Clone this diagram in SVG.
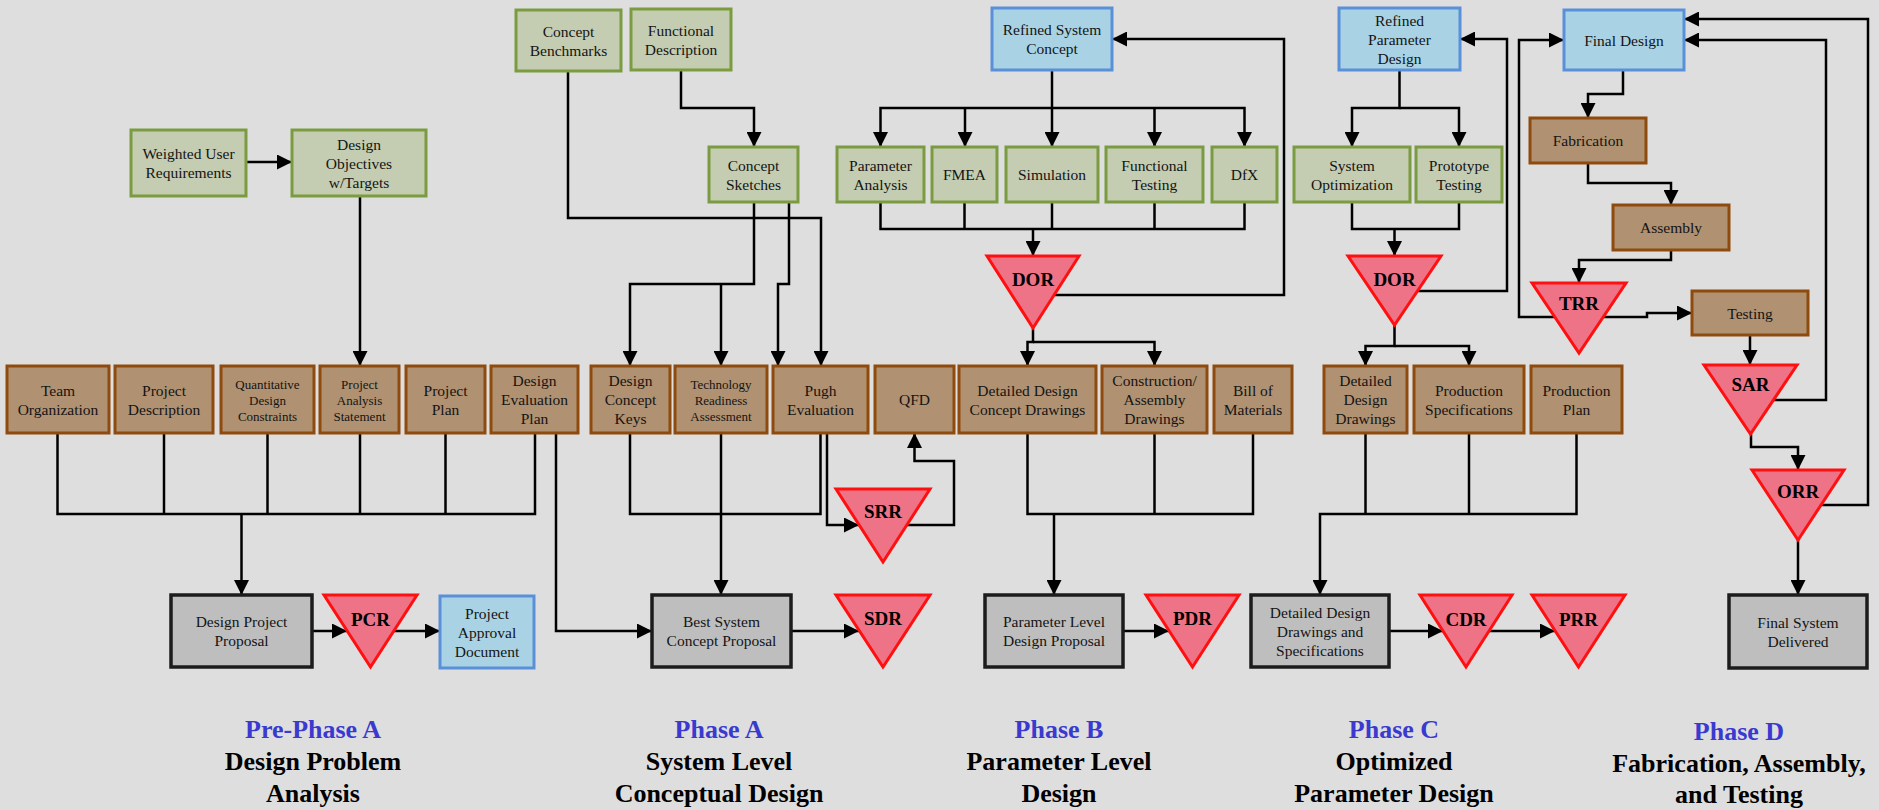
<svg xmlns="http://www.w3.org/2000/svg" width="1879" height="810" viewBox="0 0 1879 810">
  <defs>
    <marker id="arr" markerUnits="userSpaceOnUse" markerWidth="15" markerHeight="15" refX="15" refY="7.5" orient="auto">
      <path d="M0,0 L15,7.5 L0,15 Z" fill="#000"/>
    </marker>
  </defs>
  <style>
    .grn { fill: #c4ccb1; stroke: #7b9b40; stroke-width: 3; }
    .blu { fill: #a9d3e4; stroke: #5a8fd9; stroke-width: 3; }
    .brn { fill: #b09171; stroke: #8f4a0e; stroke-width: 3; }
    .gry { fill: #bebebe; stroke: #1c1c1c; stroke-width: 3.5; }
    .tri { fill: #ee7387; stroke: #ff1010; stroke-width: 3; }
    text { font-family: "Liberation Serif", "Times New Roman", serif; text-anchor: middle; fill: #141414; }
    .t { font-size: 15.5px; }
    .s { font-size: 13px; }
    .r { font-size: 19px; font-weight: bold; fill: #000; }
    .ph { font-size: 26px; font-weight: bold; fill: #3a3ad0; }
    .pt { font-size: 26px; font-weight: bold; fill: #000; }
    .c path { fill: none; stroke: #000; stroke-width: 2.5; }
    .c path.a { marker-end: url(#arr); }
  </style>

  <rect x="0" y="0" width="1879" height="810" fill="#dedede"/>

  <!-- connectors -->
  <g id="connectors" class="c">
    <!-- pre-phase A -->
    <path class="a" d="M246,162 H292"/>
    <path class="a" d="M360,196 V366"/>
    <path d="M57.5,433 V514 H535 V433"/>
    <path d="M164,433 V514"/>
    <path d="M267.5,433 V514"/>
    <path d="M360,433 V514"/>
    <path d="M445.5,433 V514"/>
    <path class="a" d="M241.5,514 V595"/>
    <path class="a" d="M312,631 H347"/>
    <path class="a" d="M394,631 H440"/>
    <path class="a" d="M556,433 V631 H652"/>

    <!-- phase A -->
    <path class="a" d="M681,70 V108 H754 V147"/>
    <path class="a" d="M568,71 V218 H821 V366"/>
    <path class="a" d="M754,202 V284 H630 V366"/>
    <path class="a" d="M721,284 V366"/>
    <path class="a" d="M789,202 V284 H778 V366"/>
    <path d="M630,433 V514 H820.5 V433"/>
    <path class="a" d="M721,433 V595"/>
    <path class="a" d="M827,433 V525 H859"/>
    <path class="a" d="M907,525 H954 V461 H914.5 V433"/>
    <path class="a" d="M791,631 H859"/>

    <!-- phase B -->
    <path class="a" d="M1052,70 V147"/>
    <path class="a" d="M1052,108 H880.5 V147"/>
    <path class="a" d="M965,108 V147"/>
    <path class="a" d="M1052,108 H1244.5 V147"/>
    <path class="a" d="M1154.5,108 V147"/>
    <path d="M880.5,202 V229 H1244.5 V202"/>
    <path d="M964.5,202 V229"/>
    <path d="M1052,202 V229"/>
    <path d="M1154.5,202 V229"/>
    <path class="a" d="M1033,229 V256"/>
    <path class="a" d="M1055,295 H1284 V39 H1112"/>
    <path class="a" d="M1033,328 V342 H1027.5 V366"/>
    <path class="a" d="M1033,342 H1154.5 V366"/>
    <path d="M1027.5,433 V514 H1253 V433"/>
    <path d="M1154.5,433 V514"/>
    <path class="a" d="M1054,514 V595"/>
    <path class="a" d="M1123,631 H1169"/>

    <!-- phase C -->
    <path class="a" d="M1399.5,70 V108 H1352 V147"/>
    <path class="a" d="M1399.5,108 H1459 V147"/>
    <path d="M1352,202 V229 H1459 V202"/>
    <path class="a" d="M1394.5,229 V256"/>
    <path class="a" d="M1417,291 H1507 V39 H1460"/>
    <path class="a" d="M1394.5,325 V346 H1365.5 V366"/>
    <path class="a" d="M1394.5,346 H1469 V366"/>
    <path class="a" d="M1576.5,433 V514 H1320 V595"/>
    <path d="M1365.5,433 V514"/>
    <path d="M1469,433 V514"/>
    <path class="a" d="M1389,631 H1443"/>
    <path class="a" d="M1489,631 H1555"/>

    <!-- phase D -->
    <path class="a" d="M1623,70 V94 H1588 V118"/>
    <path class="a" d="M1588,163 V183 H1671 V205"/>
    <path class="a" d="M1671,250 V260 H1579 V283"/>
    <path class="a" d="M1555,317 H1519 V40 H1564"/>
    <path class="a" d="M1603,317 H1647 V313 H1692"/>
    <path class="a" d="M1750,335 V365"/>
    <path class="a" d="M1774,400 H1826 V40 H1684"/>
    <path class="a" d="M1751,434 V447 H1798 V470"/>
    <path class="a" d="M1821,505 H1868 V19 H1684"/>
    <path class="a" d="M1798,540 V595"/>
  </g>

  <!-- green activity nodes -->
  <g id="weighted-user-requirements"><rect class="grn" x="131" y="130" width="115" height="66"/>
    <text class="t" x="188.5" y="159">Weighted User</text><text class="t" x="188.5" y="178">Requirements</text></g>
  <g id="design-objectives"><rect class="grn" x="292" y="130" width="134" height="66"/>
    <text class="t" x="359" y="149.5">Design</text><text class="t" x="359" y="168.5">Objectives</text><text class="t" x="359" y="187.5">w/Targets</text></g>
  <g id="concept-benchmarks"><rect class="grn" x="516" y="10" width="105" height="61"/>
    <text class="t" x="568.5" y="36.5">Concept</text><text class="t" x="568.5" y="55.5">Benchmarks</text></g>
  <g id="functional-description"><rect class="grn" x="631" y="9" width="100" height="61"/>
    <text class="t" x="681" y="35.5">Functional</text><text class="t" x="681" y="54.5">Description</text></g>
  <g id="concept-sketches"><rect class="grn" x="709" y="147" width="89" height="55"/>
    <text class="t" x="753.5" y="170.5">Concept</text><text class="t" x="753.5" y="189.5">Sketches</text></g>
  <g id="parameter-analysis"><rect class="grn" x="837" y="147" width="87" height="55"/>
    <text class="t" x="880.5" y="170.5">Parameter</text><text class="t" x="880.5" y="189.5">Analysis</text></g>
  <g id="fmea"><rect class="grn" x="932" y="147" width="65" height="55"/>
    <text class="t" x="964.5" y="180">FMEA</text></g>
  <g id="simulation"><rect class="grn" x="1006" y="147" width="92" height="55"/>
    <text class="t" x="1052" y="180">Simulation</text></g>
  <g id="functional-testing"><rect class="grn" x="1106" y="147" width="97" height="55"/>
    <text class="t" x="1154.5" y="170.5">Functional</text><text class="t" x="1154.5" y="189.5">Testing</text></g>
  <g id="dfx"><rect class="grn" x="1212" y="147" width="65" height="55"/>
    <text class="t" x="1244.5" y="180">DfX</text></g>
  <g id="system-optimization"><rect class="grn" x="1294" y="147" width="116" height="55"/>
    <text class="t" x="1352" y="170.5">System</text><text class="t" x="1352" y="189.5">Optimization</text></g>
  <g id="prototype-testing"><rect class="grn" x="1416" y="147" width="86" height="55"/>
    <text class="t" x="1459" y="170.5">Prototype</text><text class="t" x="1459" y="189.5">Testing</text></g>

  <!-- blue design nodes -->
  <g id="refined-system-concept"><rect class="blu" x="992" y="8" width="120" height="62"/>
    <text class="t" x="1052" y="35">Refined System</text><text class="t" x="1052" y="54">Concept</text></g>
  <g id="refined-parameter-design"><rect class="blu" x="1339" y="8" width="121" height="62"/>
    <text class="t" x="1399.5" y="25.5">Refined</text><text class="t" x="1399.5" y="44.5">Parameter</text><text class="t" x="1399.5" y="63.5">Design</text></g>
  <g id="final-design"><rect class="blu" x="1564" y="10" width="120" height="60"/>
    <text class="t" x="1624" y="45.5">Final Design</text></g>
  <g id="project-approval-document"><rect class="blu" x="440" y="596" width="94" height="72"/>
    <text class="t" x="487" y="618.5">Project</text><text class="t" x="487" y="637.5">Approval</text><text class="t" x="487" y="656.5">Document</text></g>

  <!-- brown deliverable nodes -->
  <g id="team-organization"><rect class="brn" x="7" y="366" width="102" height="67"/>
    <text class="t" x="58" y="395.5">Team</text><text class="t" x="58" y="414.5">Organization</text></g>
  <g id="project-description"><rect class="brn" x="115" y="366" width="98" height="67"/>
    <text class="t" x="164" y="395.5">Project</text><text class="t" x="164" y="414.5">Description</text></g>
  <g id="quantitative-design-constraints"><rect class="brn" x="221" y="366" width="93" height="67"/>
    <text class="s" x="267.5" y="388.5">Quantitative</text><text class="s" x="267.5" y="404.5">Design</text><text class="s" x="267.5" y="420.5">Constraints</text></g>
  <g id="project-analysis-statement"><rect class="brn" x="320" y="366" width="79" height="67"/>
    <text class="s" x="359.5" y="388.5">Project</text><text class="s" x="359.5" y="404.5">Analysis</text><text class="s" x="359.5" y="420.5">Statement</text></g>
  <g id="project-plan"><rect class="brn" x="406" y="366" width="79" height="67"/>
    <text class="t" x="445.5" y="395.5">Project</text><text class="t" x="445.5" y="414.5">Plan</text></g>
  <g id="design-evaluation-plan"><rect class="brn" x="491" y="366" width="87" height="67"/>
    <text class="t" x="534.5" y="386">Design</text><text class="t" x="534.5" y="405">Evaluation</text><text class="t" x="534.5" y="424">Plan</text></g>
  <g id="design-concept-keys"><rect class="brn" x="591" y="366" width="79" height="67"/>
    <text class="t" x="630.5" y="386">Design</text><text class="t" x="630.5" y="405">Concept</text><text class="t" x="630.5" y="424">Keys</text></g>
  <g id="technology-readiness-assessment"><rect class="brn" x="675" y="366" width="92" height="67"/>
    <text class="s" x="721" y="388.5">Technology</text><text class="s" x="721" y="404.5">Readiness</text><text class="s" x="721" y="420.5">Assessment</text></g>
  <g id="pugh-evaluation"><rect class="brn" x="773" y="366" width="95" height="67"/>
    <text class="t" x="820.5" y="395.5">Pugh</text><text class="t" x="820.5" y="414.5">Evaluation</text></g>
  <g id="qfd"><rect class="brn" x="875" y="366" width="79" height="67"/>
    <text class="t" x="914.5" y="405">QFD</text></g>
  <g id="detailed-design-concept-drawings"><rect class="brn" x="959" y="366" width="137" height="67"/>
    <text class="t" x="1027.5" y="395.5">Detailed Design</text><text class="t" x="1027.5" y="414.5">Concept Drawings</text></g>
  <g id="construction-assembly-drawings"><rect class="brn" x="1102" y="366" width="105" height="67"/>
    <text class="t" x="1154.5" y="386">Construction/</text><text class="t" x="1154.5" y="405">Assembly</text><text class="t" x="1154.5" y="424">Drawings</text></g>
  <g id="bill-of-materials"><rect class="brn" x="1214" y="366" width="78" height="67"/>
    <text class="t" x="1253" y="395.5">Bill of</text><text class="t" x="1253" y="414.5">Materials</text></g>
  <g id="detailed-design-drawings"><rect class="brn" x="1324" y="366" width="83" height="67"/>
    <text class="t" x="1365.5" y="386">Detailed</text><text class="t" x="1365.5" y="405">Design</text><text class="t" x="1365.5" y="424">Drawings</text></g>
  <g id="production-specifications"><rect class="brn" x="1414" y="366" width="110" height="67"/>
    <text class="t" x="1469" y="395.5">Production</text><text class="t" x="1469" y="414.5">Specifications</text></g>
  <g id="production-plan"><rect class="brn" x="1531" y="366" width="91" height="67"/>
    <text class="t" x="1576.5" y="395.5">Production</text><text class="t" x="1576.5" y="414.5">Plan</text></g>
  <g id="fabrication"><rect class="brn" x="1530" y="118" width="116" height="45"/>
    <text class="t" x="1588" y="146">Fabrication</text></g>
  <g id="assembly"><rect class="brn" x="1613" y="205" width="116" height="45"/>
    <text class="t" x="1671" y="233">Assembly</text></g>
  <g id="testing"><rect class="brn" x="1692" y="291" width="116" height="44"/>
    <text class="t" x="1750" y="318.5">Testing</text></g>

  <!-- gray proposal nodes -->
  <g id="design-project-proposal"><rect class="gry" x="171" y="595" width="141" height="72"/>
    <text class="t" x="241.5" y="627">Design Project</text><text class="t" x="241.5" y="646">Proposal</text></g>
  <g id="best-system-concept-proposal"><rect class="gry" x="652" y="595" width="139" height="72"/>
    <text class="t" x="721.5" y="627">Best System</text><text class="t" x="721.5" y="646">Concept Proposal</text></g>
  <g id="parameter-level-design-proposal"><rect class="gry" x="985" y="595" width="138" height="72"/>
    <text class="t" x="1054" y="627">Parameter Level</text><text class="t" x="1054" y="646">Design Proposal</text></g>
  <g id="detailed-design-drawings-specifications"><rect class="gry" x="1251" y="595" width="138" height="72"/>
    <text class="t" x="1320" y="617.5">Detailed Design</text><text class="t" x="1320" y="636.5">Drawings and</text><text class="t" x="1320" y="655.5">Specifications</text></g>
  <g id="final-system-delivered"><rect class="gry" x="1729" y="595" width="138" height="73"/>
    <text class="t" x="1798" y="627.5">Final System</text><text class="t" x="1798" y="646.5">Delivered</text></g>

  <!-- review gates -->
  <g id="pcr"><path class="tri" d="M324,595 H417 L370.5,667 Z"/><text class="r" x="370.5" y="626">PCR</text></g>
  <g id="srr"><path class="tri" d="M836,489 H930 L883,562 Z"/><text class="r" x="883" y="518">SRR</text></g>
  <g id="sdr"><path class="tri" d="M836,595 H930 L883,667 Z"/><text class="r" x="883" y="625">SDR</text></g>
  <g id="dor-b"><path class="tri" d="M987,256 H1079 L1033,328 Z"/><text class="r" x="1033" y="286">DOR</text></g>
  <g id="pdr"><path class="tri" d="M1146,595 H1239 L1192.5,667 Z"/><text class="r" x="1192.5" y="625">PDR</text></g>
  <g id="dor-c"><path class="tri" d="M1348,256 H1441 L1394.5,325 Z"/><text class="r" x="1394.5" y="286">DOR</text></g>
  <g id="cdr"><path class="tri" d="M1420,595 H1512 L1466,667 Z"/><text class="r" x="1466" y="626">CDR</text></g>
  <g id="prr"><path class="tri" d="M1532,595 H1625 L1578.5,667 Z"/><text class="r" x="1578.5" y="626">PRR</text></g>
  <g id="trr"><path class="tri" d="M1532,283 H1626 L1579,353 Z"/><text class="r" x="1579" y="310">TRR</text></g>
  <g id="sar"><path class="tri" d="M1704,365 H1797 L1750.5,434 Z"/><text class="r" x="1750.5" y="391">SAR</text></g>
  <g id="orr"><path class="tri" d="M1752,470 H1844 L1798,540 Z"/><text class="r" x="1798" y="498">ORR</text></g>

  <!-- phase captions -->
  <g id="phase-labels">
    <text class="ph" x="313" y="738">Pre-Phase A</text>
    <text class="pt" x="313" y="770">Design Problem</text>
    <text class="pt" x="313" y="802">Analysis</text>
    <text class="ph" x="719" y="738">Phase A</text>
    <text class="pt" x="719" y="770">System Level</text>
    <text class="pt" x="719" y="802">Conceptual Design</text>
    <text class="ph" x="1059" y="738">Phase B</text>
    <text class="pt" x="1059" y="770">Parameter Level</text>
    <text class="pt" x="1059" y="802">Design</text>
    <text class="ph" x="1394" y="738">Phase C</text>
    <text class="pt" x="1394" y="770">Optimized</text>
    <text class="pt" x="1394" y="802">Parameter Design</text>
    <text class="ph" x="1739" y="740">Phase D</text>
    <text class="pt" x="1739" y="772">Fabrication, Assembly,</text>
    <text class="pt" x="1739" y="803">and Testing</text>
  </g>
</svg>
